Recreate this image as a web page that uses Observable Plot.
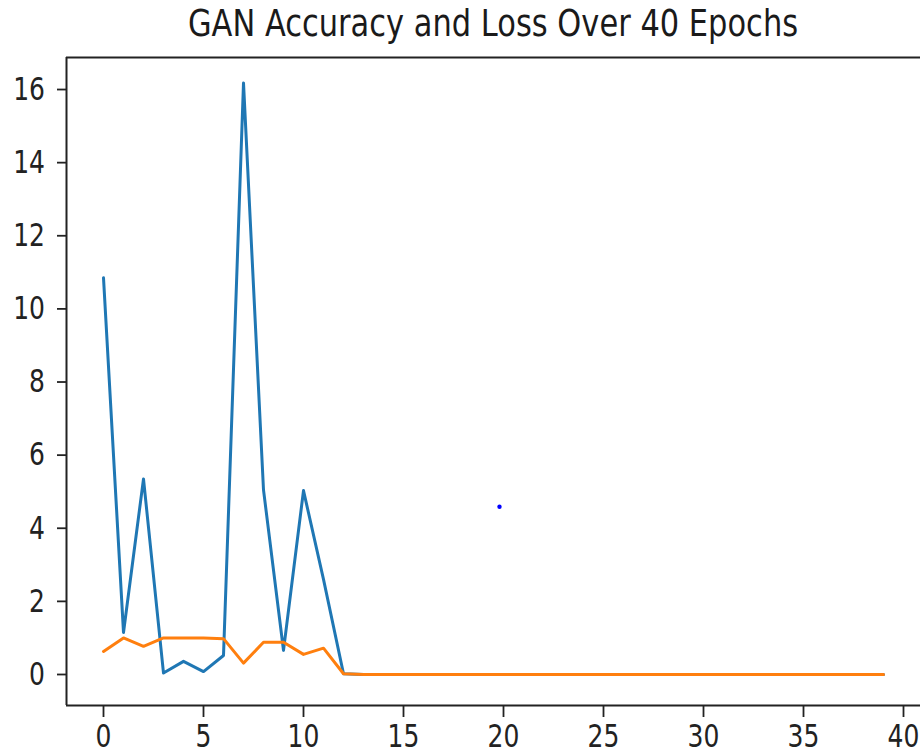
<!DOCTYPE html>
<html>
<head>
<meta charset="utf-8">
<script src="https://cdn.jsdelivr.net/npm/d3@7"></script>
<script src="https://cdn.jsdelivr.net/npm/@observablehq/plot@0.6"></script>
<style>
  body { margin: 0; background: #fff; }
  #chart { width: 920px; height: 754px; overflow: hidden; background: #fff; }
  #chart svg { display: block; }
</style>
</head>
<body>
<div id="chart"></div>
<script>
// ---- data ----
const titleText = "GAN Accuracy and Loss Over 40 Epochs";
const epochs = [0,1,2,3,4,5,6,7,8,9,10,11,12,13,14,15,16,17,18,19,20,21,22,23,24,25,26,27,28,29,30,31,32,33,34,35,36,37,38,39];
const loss = [10.85, 1.15, 5.35, 0.04, 0.36, 0.08, 0.52, 16.18, 5.05, 0.66, 5.03, 2.6, 0.02,
  0,0,0,0,0,0,0,0,0,0,0,0,0,0,0,0,0,0,0,0,0,0,0,0,0,0,0];
const accuracy = [0.63, 1.0, 0.77, 1.0, 1.0, 1.0, 0.98, 0.31, 0.88, 0.88, 0.55, 0.72, 0.02,
  0,0,0,0,0,0,0,0,0,0,0,0,0,0,0,0,0,0,0,0,0,0,0,0,0,0,0];
const pointX = [19.8];
const pointY = [4.59];
const xTicks = [0, 5, 10, 15, 20, 25, 30, 35, 40];
const yTicks = [0, 2, 4, 6, 8, 10, 12, 14, 16];
const xDomain = [-1.85, 40.85];
const yDomain = [-0.848, 16.876];

const lossData = epochs.map((e, i) => ({epoch: e, value: loss[i]}));
const accData = epochs.map((e, i) => ({epoch: e, value: accuracy[i]}));
const pointData = pointX.map((x, i) => ({x, y: pointY[i]}));

const chart = document.getElementById("chart");

// ---- title ----
const tsvg = d3.create("svg").attr("width", 920).attr("height", 50);
tsvg.append("text")
  .attr("transform", "translate(493,36) scale(1,1.2)")
  .attr("text-anchor", "middle")
  .attr("font-family", "DejaVu Sans")
  .attr("font-size", 30.5)
  .attr("fill", "#1a1a1a")
  .text(titleText);
chart.appendChild(tsvg.node());

// ---- plot ----
const ink = "#222";
const plot = Plot.plot({
  width: 920,
  height: 704,
  marginLeft: 66,
  marginRight: 0,
  marginTop: 7,
  marginBottom: 49,
  style: {fontFamily: "DejaVu Sans", fontSize: "25px", color: ink, background: "#fff", overflow: "visible"},
  x: {domain: xDomain},
  y: {domain: yDomain},
  marks: [
    Plot.line(lossData, {x: "epoch", y: "value", stroke: "#1f77b4", strokeWidth: 3}),
    Plot.line(accData, {x: "epoch", y: "value", stroke: "#ff7f0e", strokeWidth: 3}),
    Plot.dot(pointData, {x: "x", y: "y", r: 2.2, fill: "#0000ff", stroke: null}),
    Plot.axisX({ticks: xTicks, tickSize: 12, tickPadding: 6.5, label: null, strokeWidth: 1.8, tickFormat: d => String(d)}),
    Plot.axisY({ticks: yTicks, tickSize: 9, tickPadding: 12.5, label: null, strokeWidth: 1.8, tickFormat: d => String(d)}),
    Plot.ruleY([yDomain[0], yDomain[1]], {stroke: ink, strokeWidth: 2}),
    Plot.ruleX([xDomain[0]], {stroke: ink, strokeWidth: 2})
  ]
});

// stretch tick labels vertically like the reference
const sy = 1.3;
plot.querySelectorAll("text").forEach(t => {
  const x = parseFloat(t.getAttribute("x")) || 0;
  const y = parseFloat(t.getAttribute("y")) || 0;
  const tr = t.getAttribute("transform") || "";
  t.setAttribute("transform", `${tr} translate(${x},${y}) scale(1,${sy}) translate(${-x},${-y})`);
});
chart.appendChild(plot);
</script>
</body>
</html>
